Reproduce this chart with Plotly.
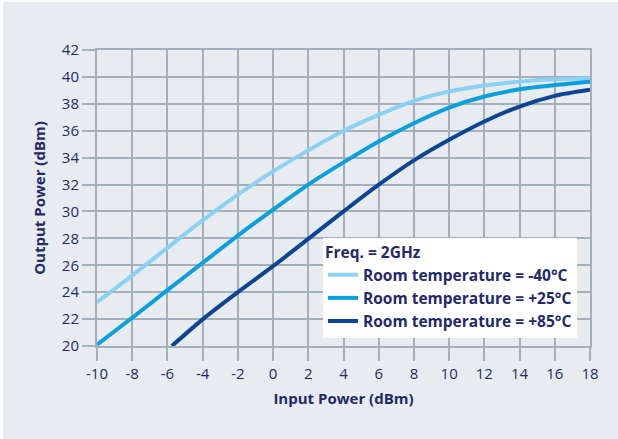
import plotly.graph_objects as go

# Input power sweep (dBm)
input_power = [-10, -8, -6, -4, -2, 0, 2, 4, 6, 8, 10, 12, 14, 16, 18]
input_power_hot = [-5.75, -4, -2, 0, 2, 4, 6, 8, 10, 12, 14, 16, 18]

# Output power (dBm) for each ambient temperature
out_minus40 = [23.26, 25.25, 27.3, 29.33, 31.25, 32.98, 34.54, 36.0, 37.18, 38.22, 38.91, 39.36, 39.65, 39.82, 39.9]
out_plus25 = [20.1, 22.1, 24.15, 26.18, 28.2, 30.14, 32.0, 33.65, 35.2, 36.56, 37.72, 38.54, 39.08, 39.4, 39.65]
out_plus85 = [20.0, 21.98, 24.0, 25.93, 27.96, 30.0, 31.99, 33.8, 35.33, 36.69, 37.8, 38.59, 39.04]

series_names = [
    "Room temperature = -40°C",
    "Room temperature = +25°C",
    "Room temperature = +85°C",
]
series_colors = ["#8ad1f2", "#0aa0e0", "#0b4594"]

x_ticks = list(range(-10, 19, 2))
x_tick_labels = [str(v) for v in x_ticks]
y_ticks = list(range(20, 43, 2))
y_tick_labels = [str(v) for v in y_ticks]

NAVY = "#1f2a6b"
GRID = "#a4b0b9"
BG = "#e8ecf0"
FONT = "'Open Sans', Lato, sans-serif"

W, H = 618, 439
ML, MR, MT, MB = 97, 28, 50, 93
pw, ph = W - ML - MR, H - MT - MB

fig = go.Figure()
for xs, ys, name, color in zip(
    [input_power, input_power, input_power_hot],
    [out_minus40, out_plus25, out_plus85],
    series_names,
    series_colors,
):
    fig.add_trace(
        go.Scatter(
            x=xs,
            y=ys,
            mode="lines",
            name=name,
            line=dict(color=color, width=4, shape="spline", smoothing=0.8),
        )
    )

axis_common = dict(
    showgrid=True,
    gridcolor=GRID,
    gridwidth=2,
    zeroline=False,
    showline=True,
    linecolor=GRID,
    linewidth=2,
    mirror=True,
    ticks="outside",
    ticklen=13,
    tickwidth=2,
    tickcolor=GRID,
    tickfont=dict(family=FONT, size=15, color=NAVY),
)

fig.update_xaxes(
    range=[-10, 18],
    tickvals=x_ticks,
    ticktext=x_tick_labels,
    title=dict(
        text="<b>Input Power (dBm)</b>",
        font=dict(family=FONT, size=15, color=NAVY),
        standoff=11,
    ),
    **axis_common,
)
fig.update_yaxes(
    range=[20, 42],
    tickvals=y_ticks,
    ticktext=y_tick_labels,
    title=dict(
        text="<b>Output Power (dBm)</b>",
        font=dict(family=FONT, size=15, color=NAVY),
        standoff=13,
    ),
    **axis_common,
)

# thin white frame along the top and left edges of the card
fig.add_shape(type="rect", xref="paper", yref="paper", layer="below",
              x0=-ML / pw, x1=(-ML + 3) / pw, y0=-MB / ph, y1=1 + MT / ph,
              fillcolor="white", line_width=0)
fig.add_shape(type="rect", xref="paper", yref="paper", layer="below",
              x0=-ML / pw, x1=1 + MR / pw, y0=1 + (MT - 2) / ph, y1=1 + MT / ph,
              fillcolor="white", line_width=0)

fig.update_layout(
    width=W,
    height=H,
    margin=dict(l=ML, r=MR, t=MT, b=MB),
    paper_bgcolor=BG,
    plot_bgcolor=BG,
    font=dict(family=FONT, color=NAVY),
    showlegend=True,
    legend=dict(
        title=dict(text="<b>Freq. = 2GHz</b>", font=dict(family=FONT, size=15.5, color=NAVY)),
        font=dict(family=FONT, size=15.5, color=NAVY, weight="bold"),
        bgcolor="white",
        borderwidth=0,
        x=(323 - ML) / pw,
        y=(MT + ph - 238) / ph,
        xanchor="left",
        yanchor="top",
        itemwidth=30,
        tracegroupgap=0,
    ),
)

fig.write_html("out.html")
